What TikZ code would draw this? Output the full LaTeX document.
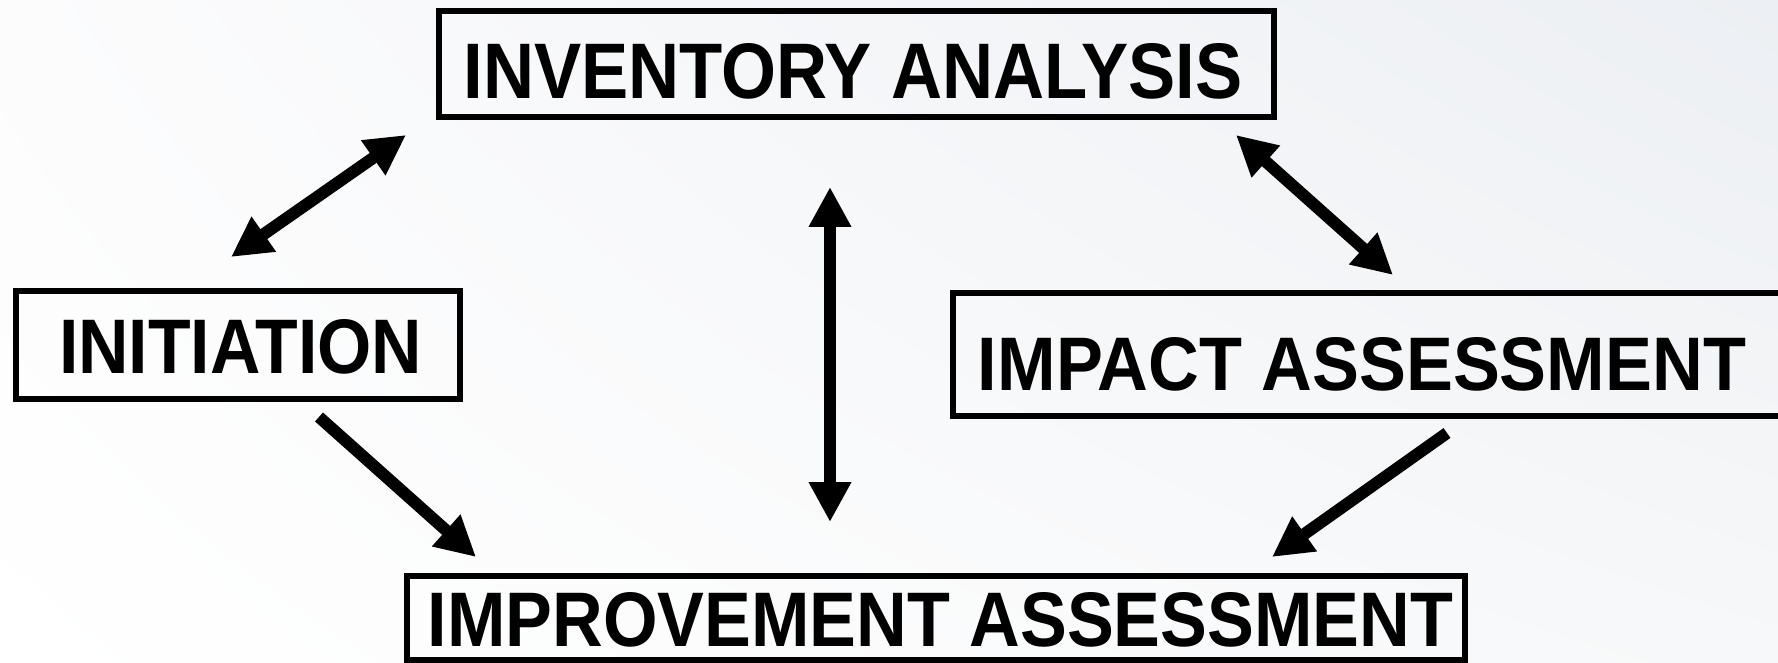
\documentclass[tikz,border=0pt]{standalone}
\usepackage{graphicx}
\usepackage{fontspec}
\setmainfont{Liberation Sans}
\usetikzlibrary{arrows.meta,shadings}
\definecolor{bgUR}{RGB}{236,239,243}
\definecolor{bgLR}{RGB}{247,248,249}
\definecolor{bgUL}{RGB}{252,252,253}
\newcommand{\fitlabel}[3]{\resizebox{#1pt}{#2pt}{\bfseries #3}}
\begin{document}
\begin{tikzpicture}[x=0.5pt,y=-0.5pt,
  boxnode/.style={draw=black, line width=3pt, inner sep=0pt},
  lbl/.style={inner sep=0pt},
  flow/.style={line width=6pt, -{Triangle[length=20pt,width=20pt]}},
  both/.style={line width=6pt, {Triangle[length=20pt,width=20pt]}-{Triangle[length=20pt,width=20pt]}}
]
\shade[upper left=bgUL, upper right=bgUR, lower left=white, lower right=bgLR] (0,0) rectangle (1778,663);
\useasboundingbox (0,0) rectangle (1778,663);

% boxes
\node[boxnode, minimum width=417.5pt, minimum height=53pt] (inv) at (856,64) {};
\node[lbl] (invT) at (853,71.5) {\fitlabel{389.5}{27.5}{INVENTORY ANALYSIS}};

\node[boxnode, minimum width=222pt, minimum height=54pt] (ini) at (238,345) {};
\node[lbl] (iniT) at (240.5,347) {\fitlabel{181.5}{27}{INITIATION}};

\node[boxnode, minimum width=423.5pt, minimum height=61.5pt] (imp) at (1376.5,354.5) {};
\node[lbl] (impT) at (1362,364) {\fitlabel{384}{26.5}{IMPACT ASSESSMENT}};

\node[boxnode, minimum width=529pt, minimum height=42.25pt] (imv) at (935.5,617.75) {};
\node[lbl] (imvT) at (940.5,620) {\fitlabel{512.5}{27}{IMPROVEMENT ASSESSMENT}};

% arrow end points
\coordinate (a1) at (406,135);  \coordinate (b1) at (231,257);
\coordinate (a2) at (1236,135); \coordinate (b2) at (1393,275);
\coordinate (a3) at (830,187);  \coordinate (b3) at (830,522);
\coordinate (a4) at (319,417);  \coordinate (b4) at (476,557);
\coordinate (a5) at (1447,433); \coordinate (b5) at (1272,557);

\draw[both] (a1) -- (b1);
\draw[both] (a2) -- (b2);
\draw[both] (a3) -- (b3);
\draw[flow] (a4) -- (b4);
\draw[flow] (a5) -- (b5);
\end{tikzpicture}
\end{document}
